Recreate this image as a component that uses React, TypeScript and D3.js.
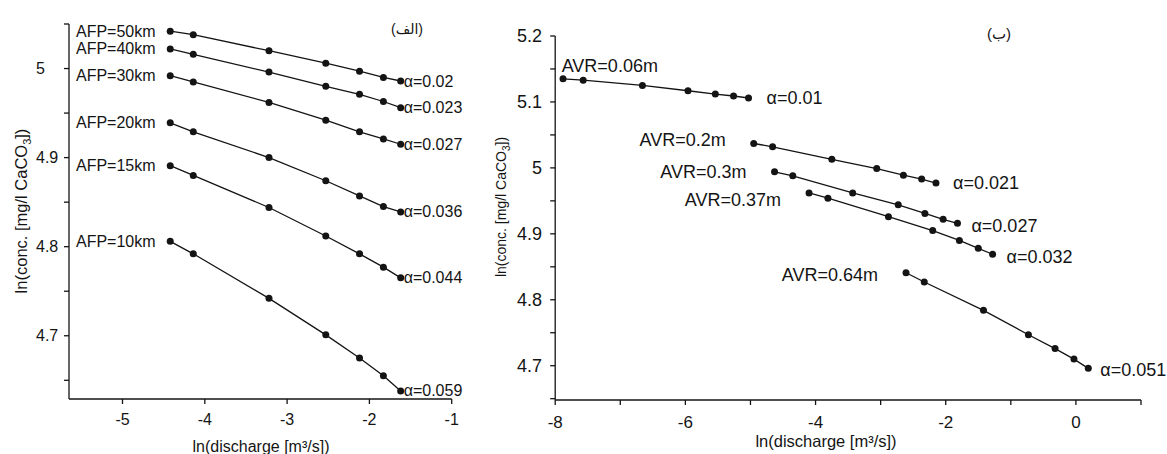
import React from "react";
import * as d3 from "d3";

// ---------- Left panel data (الف) ----------
const leftX = [-4.42, -4.14, -3.22, -2.53, -2.12, -1.83, -1.62];
const afpLabels = ["AFP=50km", "AFP=40km", "AFP=30km", "AFP=20km", "AFP=15km", "AFP=10km"];
const afpAlpha = ["α=0.02", "α=0.023", "α=0.027", "α=0.036", "α=0.044", "α=0.059"];
const afp50 = [5.042, 5.038, 5.02, 5.006, 4.997, 4.99, 4.986];
const afp40 = [5.022, 5.016, 4.996, 4.98, 4.971, 4.963, 4.956];
const afp30 = [4.992, 4.985, 4.962, 4.942, 4.929, 4.921, 4.915];
const afp20 = [4.939, 4.929, 4.9, 4.874, 4.857, 4.845, 4.839];
const afp15 = [4.891, 4.88, 4.844, 4.812, 4.792, 4.777, 4.765];
const afp10 = [4.806, 4.792, 4.742, 4.701, 4.675, 4.655, 4.638];
const leftSeries = [afp50, afp40, afp30, afp20, afp15, afp10];
const leftXTicks = [-5, -4, -3, -2, -1];
const leftYTicks = [4.65, 4.7, 4.75, 4.8, 4.85, 4.9, 4.95, 5, 5.05];
const leftYLabels = [4.7, 4.8, 4.9, 5];
const leftTitle = "\u200E(\u200Eالف\u200E)\u200E";

// ---------- Right panel data (ب) ----------
const avrLabels = ["AVR=0.06m", "AVR=0.2m", "AVR=0.3m", "AVR=0.37m", "AVR=0.64m"];
const avrAlpha = ["α=0.01", "α=0.021", "α=0.027", "α=0.032", "α=0.051"];
const avr006X = [-7.88, -7.57, -6.66, -5.96, -5.54, -5.26, -5.03];
const avr006Y = [5.135, 5.133, 5.125, 5.117, 5.112, 5.109, 5.106];
const avr02X = [-4.95, -4.66, -3.75, -3.06, -2.65, -2.37, -2.15];
const avr02Y = [5.037, 5.032, 5.013, 4.999, 4.989, 4.983, 4.977];
const avr03X = [-4.63, -4.35, -3.43, -2.73, -2.32, -2.04, -1.82];
const avr03Y = [4.994, 4.988, 4.962, 4.944, 4.931, 4.922, 4.916];
const avr037X = [-4.1, -3.81, -2.88, -2.2, -1.79, -1.5, -1.28];
const avr037Y = [4.962, 4.954, 4.926, 4.905, 4.89, 4.878, 4.869];
const avr064X = [-2.61, -2.33, -1.42, -0.73, -0.32, -0.03, 0.19];
const avr064Y = [4.841, 4.827, 4.784, 4.747, 4.726, 4.71, 4.696];
const rightXs = [avr006X, avr02X, avr03X, avr037X, avr064X];
const rightYs = [avr006Y, avr02Y, avr03Y, avr037Y, avr064Y];
const rightXTicks = [-8, -7, -6, -5, -4, -3, -2, -1, 0, 1];
const rightXLabels = [-8, -6, -4, -2, 0];
const rightYTicks = [4.65, 4.7, 4.75, 4.8, 4.85, 4.9, 4.95, 5, 5.05, 5.1, 5.15, 5.2];
const rightYLabels = [4.7, 4.8, 4.9, 5, 5.1, 5.2];
const rightTitle = "\u200E(\u200Eب\u200E)\u200E";

// label layout offsets (px) — styling only
const avrLabelDy = [-13, -3, 0, 7, 2];
const avrAlphaDx = [18, 17, 14, 14, 12];
const avrAlphaDy = [0, 0, 3, 3, 2];

const FONT = "'Liberation Sans', Arial, 'DejaVu Sans', sans-serif";
const INK = "#141414";

export default function App() {
  const xL = d3.scaleLinear().domain([-5.65, -1]).range([69, 451.7]);
  const yL = d3.scaleLinear().domain([4.629, 5.05]).range([399, 24]);
  const xR = d3.scaleLinear().domain([-8, 1]).range([555.2, 1141]);
  const yR = d3.scaleLinear().domain([4.648, 5.2]).range([400, 36]);

  const fmt = (v: number) => (Number.isInteger(v) ? String(v) : v.toFixed(1));

  const lineL = d3
    .line<number>()
    .x((_, i) => xL(leftX[i]))
    .y((d) => yL(d));

  return (
    <svg
      width={1167}
      height={454}
      style={{ position: "absolute", left: 0, top: 0, background: "#fff" }}
      fontFamily={FONT}
    >
      <rect x={0} y={0} width={1167} height={454} fill="#fff" />

      {/* ===== LEFT PANEL ===== */}
      <g stroke={INK} strokeWidth={1.3} fill="none">
        <line x1={xL(-5.65)} x2={xL(-5.65)} y1={yL(5.05)} y2={yL(4.629)} />
        <line x1={xL(-5.65)} x2={xL(-1)} y1={yL(4.629)} y2={yL(4.629)} />
        {leftYTicks.map((t) => (
          <line key={"lyt" + t} x1={xL(-5.65) - 5} x2={xL(-5.65)} y1={yL(t)} y2={yL(t)} />
        ))}
        {leftXTicks.map((t) => (
          <line key={"lxt" + t} x1={xL(t)} x2={xL(t)} y1={yL(4.629)} y2={yL(4.629) + 5} />
        ))}
      </g>
      {leftYLabels.map((t) => (
        <text key={"lyl" + t} x={36} y={yL(t)} dominantBaseline="central" fontSize={16} fill={INK}>
          {fmt(t)}
        </text>
      ))}
      {leftXTicks.map((t) => (
        <text key={"lxl" + t} x={xL(t)} y={419} dominantBaseline="central" textAnchor="middle" fontSize={16} fill={INK}>
          {String(t)}
        </text>
      ))}
      <text x={261} y={446} dominantBaseline="central" textAnchor="middle" fontSize={16} fill={INK}>
        ln(discharge [m³/s])
      </text>
      <text
        transform={`translate(21,211) rotate(-90)`}
        dominantBaseline="central"
        textAnchor="middle"
        fontSize={16.5}
        fill={INK}
      >
        ln(conc. [mg/l CaCO<tspan baselineShift="sub" fontSize={11}>3</tspan>])
      </text>
      <text x={407} y={29} dominantBaseline="central" textAnchor="middle" fontSize={14} fill={INK}>
        {leftTitle}
      </text>

      {leftSeries.map((s, k) => (
        <g key={"ls" + k}>
          <path d={lineL(s) || ""} stroke={INK} strokeWidth={1.3} fill="none" />
          {s.map((v, i) => (
            <circle key={i} cx={xL(leftX[i])} cy={yL(v)} r={3.5} fill={INK} />
          ))}
          <text x={76} y={yL(s[0])} dominantBaseline="central" fontSize={16} fill={INK}>
            {afpLabels[k]}
          </text>
          <text
            x={xL(leftX[leftX.length - 1]) + 3}
            y={yL(s[s.length - 1])}
            dominantBaseline="central"
            fontSize={16}
            fill={INK}
          >
            {afpAlpha[k]}
          </text>
        </g>
      ))}

      {/* ===== RIGHT PANEL ===== */}
      <g stroke={INK} strokeWidth={1.3} fill="none">
        <line x1={xR(-8)} x2={xR(-8)} y1={yR(5.2)} y2={yR(4.648)} />
        <line x1={xR(-8)} x2={xR(1)} y1={yR(4.648)} y2={yR(4.648)} />
        {rightYTicks.map((t) => (
          <line key={"ryt" + t} x1={xR(-8) - 5} x2={xR(-8)} y1={yR(t)} y2={yR(t)} />
        ))}
        {rightXTicks.map((t) => (
          <line key={"rxt" + t} x1={xR(t)} x2={xR(t)} y1={yR(4.648)} y2={yR(4.648) + 5} />
        ))}
      </g>
      {rightYLabels.map((t) => (
        <text key={"ryl" + t} x={542} y={yR(t)} dominantBaseline="central" textAnchor="end" fontSize={18} fill={INK}>
          {fmt(t)}
        </text>
      ))}
      {rightXLabels.map((t) => (
        <text key={"rxl" + t} x={xR(t)} y={422} dominantBaseline="central" textAnchor="middle" fontSize={17} fill={INK}>
          {String(t)}
        </text>
      ))}
      <text x={826} y={441} dominantBaseline="central" textAnchor="middle" fontSize={16.5} fill={INK}>
        ln(discharge [m³/s])
      </text>
      <text
        transform={`translate(501,207) rotate(-90)`}
        dominantBaseline="central"
        textAnchor="middle"
        fontSize={14}
        fill={INK}
      >
        ln(conc. [mg/l CaCO<tspan baselineShift="sub" fontSize={10}>3</tspan>])
      </text>
      <text x={999} y={33} dominantBaseline="central" textAnchor="middle" fontSize={15} fill={INK}>
        {rightTitle}
      </text>

      {rightYs.map((ys, k) => {
        const xs = rightXs[k];
        const line = d3
          .line<number>()
          .x((_, i) => xR(xs[i]))
          .y((d) => yR(d));
        const n = ys.length - 1;
        return (
          <g key={"rs" + k}>
            <path d={line(ys) || ""} stroke={INK} strokeWidth={1.3} fill="none" />
            {ys.map((v, i) => (
              <circle key={i} cx={xR(xs[i])} cy={yR(v)} r={3.5} fill={INK} />
            ))}
            {k === 0 ? (
              <text x={xR(-8) + 6.5} y={yR(ys[0]) + avrLabelDy[k]} dominantBaseline="central" fontSize={18} fill={INK}>
                {avrLabels[k]}
              </text>
            ) : (
              <text
                x={xR(xs[0]) - 28}
                y={yR(ys[0]) + avrLabelDy[k]}
                dominantBaseline="central"
                textAnchor="end"
                fontSize={18}
                fill={INK}
              >
                {avrLabels[k]}
              </text>
            )}
            <text
              x={xR(xs[n]) + avrAlphaDx[k]}
              y={yR(ys[n]) + avrAlphaDy[k]}
              dominantBaseline="central"
              fontSize={18}
              fill={INK}
            >
              {avrAlpha[k]}
            </text>
          </g>
        );
      })}
    </svg>
  );
}
